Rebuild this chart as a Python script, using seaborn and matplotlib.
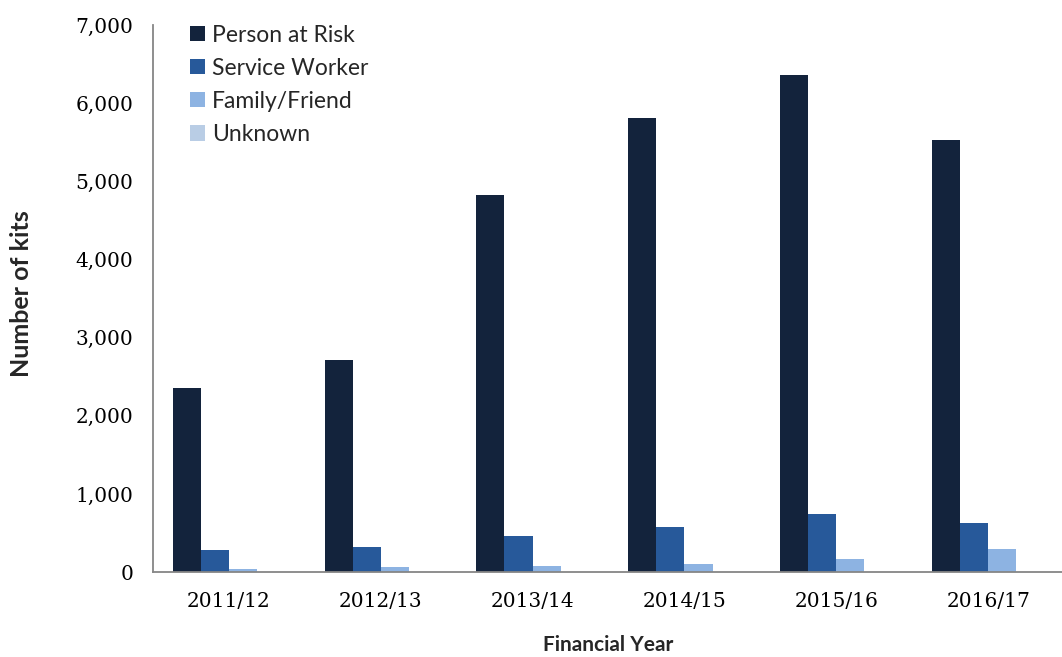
import numpy as np
import pandas as pd
import matplotlib
matplotlib.use("Agg")
import matplotlib.pyplot as plt
from matplotlib.ticker import FuncFormatter
import seaborn as sns

# -----------------------------
# Data
# -----------------------------
years = ["2011/12", "2012/13", "2013/14", "2014/15", "2015/16", "2016/17"]
groups = ["Person at Risk", "Service Worker", "Family/Friend", "Unknown"]
person_at_risk = [2353, 2715, 4825, 5810, 6355, 5532]
service_worker = [282, 327, 465, 585, 746, 627]
family_friend = [42, 64, 85, 103, 166, 302]
unknown = [0, 0, 0, 0, 0, 0]

colors = ["#13233c", "#27599a", "#8db3e2", "#b9cde5"]

df = pd.DataFrame({
    "Financial Year": years * 4,
    "Group": [g for g in groups for _ in years],
    "Kits": person_at_risk + service_worker + family_friend + unknown,
})

# -----------------------------
# Plot
# -----------------------------
sns.set_style("white")
fig = plt.figure(figsize=(10.62, 6.57), dpi=100)
ax = fig.add_axes([0.144, 0.129, 0.858, 0.833])

sns.barplot(data=df, x="Financial Year", y="Kits", hue="Group",
            hue_order=groups, order=years, palette=colors,
            width=0.74, gap=0, saturation=1, linewidth=0,
            ax=ax, errorbar=None)

ax.set_ylim(0, 7000)
ax.set_xlim(-0.5, 5.5)
ax.set_yticks(np.arange(0, 7001, 1000))
ax.yaxis.set_major_formatter(FuncFormatter(lambda v, p: f"{int(v):,}"))

# Excel-style category ticks between groups
ax.set_xticks(np.arange(-0.5, 6, 1), minor=True)
ax.tick_params(axis="x", which="major", length=0, pad=14)
ax.tick_params(axis="x", which="minor", length=7, width=1.2, color="#868686", direction="out")
ax.tick_params(axis="y", length=8, width=1.2, color="#868686", direction="out", pad=6)

for lbl in ax.get_xticklabels() + ax.get_yticklabels():
    lbl.set_family("DejaVu Serif")
    lbl.set_fontsize(14.5)
    lbl.set_color("black")

for side in ["top", "right"]:
    ax.spines[side].set_visible(False)
for side in ["left", "bottom"]:
    ax.spines[side].set_color("#868686")
    ax.spines[side].set_linewidth(1.3)

ax.set_xlabel("Financial Year", family="Lato", fontweight="bold", fontsize=15)
ax.set_ylabel("Number of kits", family="Lato", fontweight="bold", fontsize=18)
ax.xaxis.set_label_coords(0.5, -0.115)
ax.yaxis.set_label_coords(-0.132, 0.51)

leg = ax.legend(loc="upper left", bbox_to_anchor=(0.031, 1.0175), borderaxespad=0,
                frameon=False, prop={"family": "Lato", "size": 16.5},
                handlelength=0.65, handleheight=0.65, handletextpad=0.3,
                labelspacing=0.53)

fig.savefig("out.png", dpi=100)
